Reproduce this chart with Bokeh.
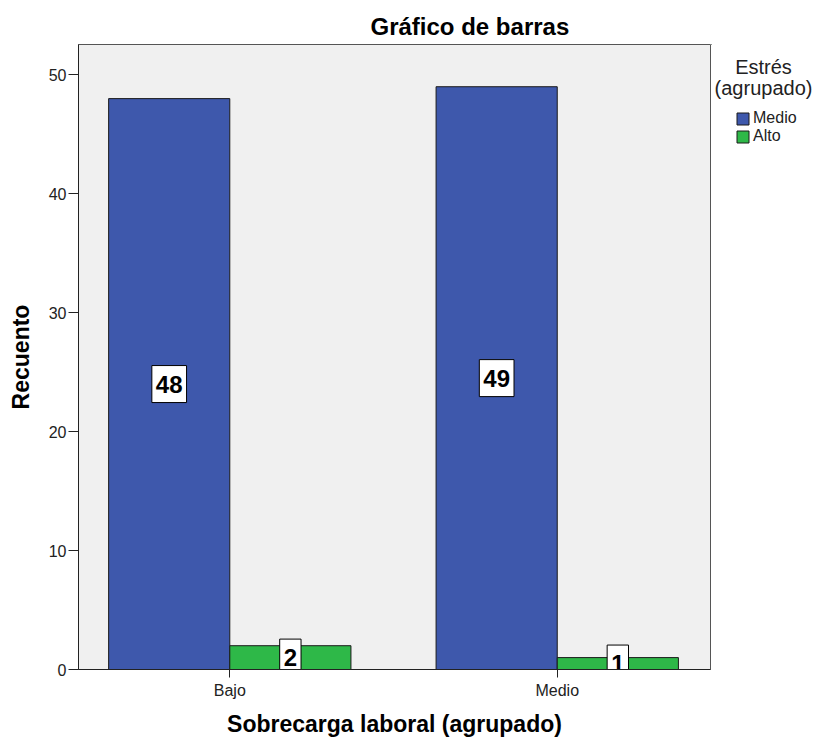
from bokeh.plotting import figure
from bokeh.layouts import row
from bokeh.models import (ColumnDataSource, FixedTicker, Legend, LegendItem,
                          Label, Title, Range1d)
from bokeh.core.properties import value
from bokeh.embed import file_html
from bokeh.resources import INLINE

# ---- data ----
categories = ["Bajo", "Medio"]
series_names = ["Medio", "Alto"]
medio_counts = [48, 49]
alto_counts = [2, 1]
y_ticks = [0, 10, 20, 30, 40, 50]

chart_title = "Gráfico de barras"
x_title = "Sobrecarga laboral (agrupado)"
y_title = "Recuento"
legend_title_lines = ["Estrés", "(agrupado)"]

BLUE = "#3E58AC"
GREEN = "#2EB848"
FONT = "Liberation Sans"
BAR_W = 0.37
H = 740
FRAME_TOP = 44
FRAME_BOTTOM = 669
FRAME_LEFT = 78
FRAME_RIGHT = 710
LEG_W = 104

idx = list(range(len(categories)))

p = figure(width=FRAME_RIGHT + 1, height=H,
           x_range=Range1d(-0.462, 1.468), y_range=Range1d(0, 52.55),
           output_backend="svg", toolbar_location=None,
           min_border_left=FRAME_LEFT, min_border_right=1,
           min_border_top=FRAME_TOP, min_border_bottom=H - FRAME_BOTTOM)

p.background_fill_color = "#F0F0F0"
p.border_fill_color = "white"
p.outline_line_color = "#555555"
p.outline_line_width = 1
p.xgrid.visible = False
p.ygrid.visible = False

src_medio = ColumnDataSource(dict(x=[i - BAR_W / 2 for i in idx], top=medio_counts,
                                  ymid=[v / 2 for v in medio_counts],
                                  lbl=[str(v) for v in medio_counts]))
src_alto = ColumnDataSource(dict(x=[i + BAR_W / 2 for i in idx], top=alto_counts,
                                 ymid=[v / 2 for v in alto_counts],
                                 lbl=[str(v) for v in alto_counts]))

r_medio = p.vbar(x="x", top="top", bottom=0, width=BAR_W, source=src_medio,
                 fill_color=BLUE, line_color="#1a1a1a", line_width=1)
r_alto = p.vbar(x="x", top="top", bottom=0, width=BAR_W, source=src_alto,
                fill_color=GREEN, line_color="#1a1a1a", line_width=1)

for src in (src_medio, src_alto):
    p.text(x="x", y="ymid", text="lbl", source=src,
           text_align="center", text_baseline="middle",
           text_font=value(FONT), text_font_size="24px", text_font_style="bold",
           text_color="black",
           background_fill_color="white", border_line_color="black",
           border_line_width=1, padding=(4, 4, 10, 10))

# axes
p.xaxis.ticker = FixedTicker(ticks=idx)
p.xaxis.major_label_overrides = {i: c for i, c in zip(idx, categories)}
p.yaxis.ticker = FixedTicker(ticks=y_ticks)
for ax in (p.xaxis, p.yaxis):
    ax.axis_line_color = "#222222"
    ax.major_tick_line_color = "#222222"
    ax.major_tick_in = 0
    ax.minor_tick_out = 0
    ax.minor_tick_in = 0
    ax.major_label_text_font = FONT
    ax.major_label_text_font_size = "16px"
    ax.major_label_text_color = "#222222"
    ax.axis_label_text_font = FONT
    ax.axis_label_text_font_size = "23px"
    ax.axis_label_text_font_style = "bold"
    ax.axis_label_text_color = "black"
p.xaxis.axis_label = x_title
p.yaxis.axis_label = y_title
p.xaxis.major_tick_out = 8
p.yaxis.major_tick_out = 10
p.xaxis.major_label_standoff = 4
p.xaxis.axis_label_standoff = 9
p.yaxis.major_label_standoff = 2
p.yaxis.axis_label_standoff = 12

p.title = Title(text=chart_title, align="left", offset=292,
                text_font=FONT, text_font_size="24px", text_font_style="bold",
                text_color="black", standoff=10)

# ---- legend panel (separate figure, frame aligned with the main frame) ----
lg = figure(width=LEG_W, height=H,
            x_range=Range1d(FRAME_RIGHT + 1, FRAME_RIGHT + 1 + LEG_W),
            y_range=Range1d(FRAME_BOTTOM, FRAME_TOP),
            output_backend="svg", toolbar_location=None,
            min_border_left=0, min_border_right=0,
            min_border_top=FRAME_TOP, min_border_bottom=H - FRAME_BOTTOM)
lg.axis.visible = False
lg.grid.visible = False
lg.outline_line_color = None
lg.background_fill_color = "white"
lg.border_fill_color = "white"

lr_medio = lg.vbar(x=[0], top=[0], width=0, fill_color=BLUE, line_color="#1a1a1a")
lr_alto = lg.vbar(x=[0], top=[0], width=0, fill_color=GREEN, line_color="#1a1a1a")

legend = Legend(items=[LegendItem(label=series_names[0], renderers=[lr_medio]),
                       LegendItem(label=series_names[1], renderers=[lr_alto])],
                location=(735 - (FRAME_RIGHT + 1), FRAME_BOTTOM - 145),
                orientation="vertical",
                glyph_width=15, glyph_height=15, label_standoff=3,
                label_text_font=FONT, label_text_font_size="16px",
                label_text_color="#222222", label_height=15,
                spacing=0, padding=0, margin=0,
                border_line_color=None, background_fill_alpha=0)
lg.add_layout(legend, "center")

lg.add_layout(Label(x=763, y=66, text=legend_title_lines[0], text_align="center",
                    text_baseline="alphabetic", text_font=FONT,
                    text_font_size="20px", text_color="#222222"))
lg.add_layout(Label(x=763, y=87, text=legend_title_lines[1], text_align="center",
                    text_baseline="alphabetic", text_font=FONT,
                    text_font_size="20px", text_color="#222222"))

layout = row(p, lg, spacing=0)
open("out.html", "w").write(file_html(layout, INLINE))
